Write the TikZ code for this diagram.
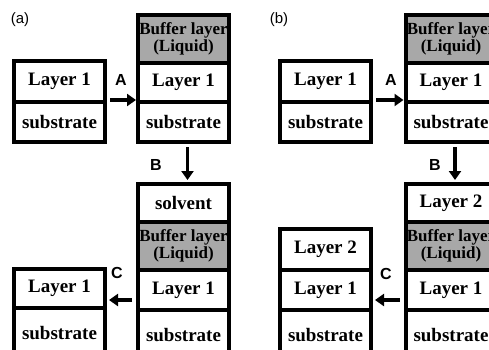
\documentclass[tikz,border=0pt]{standalone}
\usepackage{fontspec}
\setmainfont{Liberation Serif}
\newfontfamily\labelfont{Liberation Sans}
\usetikzlibrary{positioning,arrows.meta}
\definecolor{bufgray}{RGB}{168,168,168}
\tikzset{
  box/.style={draw, line width=4pt, fill=white, minimum width=91pt, inner sep=0pt, outer sep=0pt, font=\fontsize{19}{19}\selectfont\bfseries},
  buffer/.style={box, fill=bufgray, align=center, font=\fontsize{17}{15}\selectfont\bfseries},
  steplbl/.style={font=\labelfont\bfseries\fontsize{16}{16}\selectfont},
  panel/.style={font=\labelfont\fontsize{15}{15}\selectfont},
  flow/.style={line width=3.5pt, -{Triangle[length=9pt,width=12pt]}}
}

\begin{document}
\begin{tikzpicture}[x=1pt,y=-1pt]
\path[use as bounding box, clip] (0,0) rectangle (489,349);
% (a)
\node[panel] (pa) at (20,20) {(a)};
\node[box, minimum height=41pt] (a1) at (59.5,81.5) {Layer 1};
\node[box, minimum height=40pt, below=0pt of a1] (a1s) {substrate};
\node[buffer, minimum height=48pt] (a2b) at (183.5,39) {Buffer layer\\(Liquid)};
\node[box, minimum height=39pt, below=0pt of a2b] (a2l) {Layer 1};
\node[box, minimum height=40pt, below=0pt of a2l] (a2s) {substrate};
\node[box, minimum height=38pt] (a3v) at (183.5,203) {solvent};
\node[buffer, minimum height=48pt, below=0pt of a3v] (a3b) {Buffer layer\\(Liquid)};
\node[box, minimum height=40pt, below=0pt of a3b] (a3l) {Layer 1};
\node[box, minimum height=50pt, below=0pt of a3l] (a3s) {substrate};
\node[box, minimum height=39pt] (a4l) at (59.5,288.5) {Layer 1};
\node[box, minimum height=50pt, below=0pt of a4l] (a4s) {substrate};
\draw[flow] ([xshift=5pt,yshift=2pt]a1.south east) -- ([xshift=-2pt,yshift=2pt]a2l.south west);
\draw[flow] ([xshift=4pt,yshift=-5pt]a2s.south) -- ([xshift=4pt,yshift=4pt]a3v.north);
\draw[flow, shorten >=4pt] ([xshift=-6pt,yshift=-10pt]a3l.west) -- ([yshift=-10pt]a3l.west -| a4l.east);
\node[steplbl] (la) at (121,80) {A};
\node[steplbl] (lb) at (156,165) {B};
\node[steplbl] (lc) at (117,273) {C};
% (b)
\node[panel] (pb) at (279,20) {(b)};
\node[box, minimum height=41pt] (b1) at (325.5,81.5) {Layer 1};
\node[box, minimum height=40pt, below=0pt of b1] (b1s) {substrate};
\node[buffer, minimum height=48pt] (b2b) at (451,39) {Buffer layer\\(Liquid)};
\node[box, minimum height=39pt, below=0pt of b2b] (b2l) {Layer 1};
\node[box, minimum height=40pt, below=0pt of b2l] (b2s) {substrate};
\node[box, minimum height=38pt] (b3t) at (451,203) {Layer 2};
\node[buffer, minimum height=48pt, below=0pt of b3t] (b3b) {Buffer layer\\(Liquid)};
\node[box, minimum height=40pt, below=0pt of b3b] (b3l) {Layer 1};
\node[box, minimum height=50pt, below=0pt of b3l] (b3s) {substrate};
\node[box, minimum height=41pt] (b4t) at (325.5,249.5) {Layer 2};
\node[box, minimum height=40pt, below=0pt of b4t] (b4l) {Layer 1};
\node[box, minimum height=50pt, below=0pt of b4l] (b4s) {substrate};
\draw[flow] ([xshift=5pt,yshift=2pt]b1.south east) -- ([xshift=-2pt,yshift=2pt]b2l.south west);
\draw[flow] ([xshift=4pt,yshift=-5pt]b2s.south) -- ([xshift=4pt,yshift=4pt]b3t.north);
\draw[flow, shorten >=4pt] ([xshift=-6pt,yshift=-10pt]b3l.west) -- ([yshift=-10pt]b3l.west -| b4l.east);
\node[steplbl] (lab) at (391,80) {A};
\node[steplbl] (lbb) at (435,165) {B};
\node[steplbl] (lcb) at (386,274) {C};
\end{tikzpicture}
\end{document}
